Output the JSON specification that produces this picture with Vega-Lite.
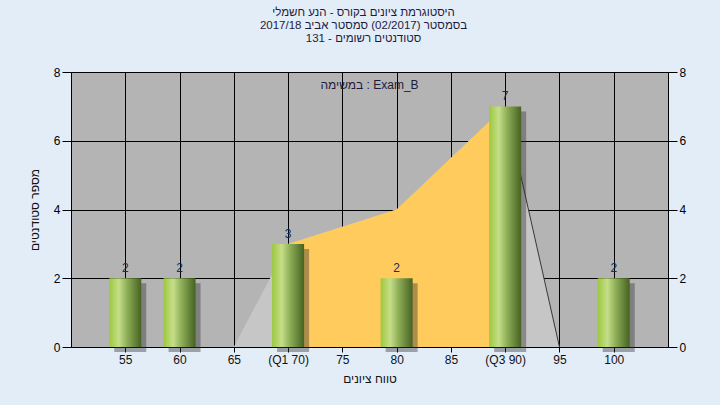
{
  "$schema": "https://vega.github.io/schema/vega-lite/v6.json",
  "width": 597,
  "height": 275,
  "autosize": {"type": "none"},
  "padding": {"left": 71, "top": 72, "right": 52, "bottom": 58},
  "background": "#e3edf8",
  "config": {
    "view": {"fill": "#b4b4b4", "stroke": "#000000", "strokeWidth": 1},
    "font": "Liberation Sans",
    "axis": {
      "gridColor": "#000000", "gridOpacity": 1, "gridWidth": 1,
      "domainColor": "#000000", "tickColor": "#000000",
      "labelColor": "#111111", "labelFontSize": 12, "labelFont": "Liberation Sans",
      "titleFontSize": 12, "titleFontWeight": "normal", "titleColor": "#111111", "titleFont": "Liberation Sans"
    }
  },
  "title": {
    "text": [
      "היסטוגרמת ציונים בקורס - הנע חשמלי",
      "בסמסטר  (02/2017)  סמסטר אביב 2017/18",
      "סטודנטים רשומים - 131"
    ],
    "fontSize": 11.5, "fontWeight": "normal", "color": "#1c1c3c",
    "lineHeight": 13, "offset": 22, "anchor": "middle", "dx": -6, "font": "Liberation Sans"
  },
  "datasets": {
    "bars": [
      {"score": 55, "n": 2}, {"score": 60, "n": 2}, {"score": 70, "n": 3},
      {"score": 80, "n": 2}, {"score": 90, "n": 7}, {"score": 100, "n": 2}
    ],
    "poly": [
      {"score": 65, "n": 0}, {"score": 70, "n": 3}, {"score": 80, "n": 4},
      {"score": 90, "n": 7}, {"score": 95, "n": 0}
    ],
    "note": [
      {"score": 77.5, "n": 7.62, "label": "במשימה : Exam_B"}
    ]
  },
  "encoding": {
    "x": {
      "field": "score", "type": "quantitative",
      "scale": {"domain": [50, 105], "nice": false, "zero": false, "padding": 0},
      "axis": {
        "values": [55, 60, 65, 70, 75, 80, 85, 90, 95, 100],
        "labelExpr": "datum.value == 70 ? '(Q1 70)' : datum.value == 90 ? '(Q3 90)' : datum.label",
        "grid": true, "tickSize": 5, "labelPadding": 2, "domain": false,
        "title": "טווח ציונים", "titlePadding": 8
      }
    },
    "y": {
      "field": "n", "type": "quantitative",
      "scale": {"domain": [0, 8], "nice": false, "padding": 0},
      "axis": null
    }
  },
  "layer": [
    {
      "data": {"name": "poly"},
      "mark": {"type": "area", "color": "#c6c6c6", "opacity": 1},
      "encoding": {
        "y": {
          "field": "n", "type": "quantitative",
          "scale": {"domain": [0, 8], "nice": false, "padding": 0},
          "axis": {"orient": "left", "values": [0, 2, 4, 6, 8], "grid": true, "tickSize": 9, "labelPadding": 2, "domain": false, "title": "מספר סטודנטים", "titlePadding": 12, "labelColor": "#000000"}
        }
      }
    },
    {
      "data": {"name": "poly"},
      "transform": [{"filter": "datum.score >= 70 && datum.score <= 90"}],
      "mark": {"type": "area", "color": "#ffcb5c", "opacity": 1}
    },
    {
      "data": {"name": "poly"},
      "transform": [{"filter": "datum.score >= 90"}],
      "mark": {"type": "line", "color": "#383838", "strokeWidth": 1}
    },
    {
      "data": {"name": "bars"},
      "mark": {"type": "bar", "width": 32, "xOffset": 5, "yOffset": 5, "color": "#303030", "opacity": 0.4}
    },
    {
      "data": {"name": "bars"},
      "mark": {
        "type": "bar", "width": 32,
        "color": {
          "gradient": "linear", "x1": 0, "y1": 0, "x2": 1, "y2": 0,
          "stops": [
            {"offset": 0, "color": "#9cc83c"},
            {"offset": 0.3, "color": "#c6de8a"},
            {"offset": 0.55, "color": "#8fb058"},
            {"offset": 1, "color": "#466222"}
          ]
        }
      },
      "encoding": {
        "y": {
          "field": "n", "type": "quantitative",
          "scale": {"domain": [0, 8], "nice": false, "padding": 0},
          "axis": {"orient": "right", "values": [0, 2, 4, 6, 8], "grid": false, "tickSize": 9, "labelPadding": 2, "domain": false, "title": null, "labelColor": "#000000"}
        }
      }
    },
    {
      "data": {"name": "bars"},
      "mark": {"type": "text", "baseline": "bottom", "dy": -3, "fontSize": 12, "color": "#1a2a5a", "font": "Liberation Sans"},
      "encoding": {"text": {"field": "n", "type": "quantitative"}}
    },
    {
      "data": {"name": "note"},
      "mark": {"type": "text", "fontSize": 12, "color": "#1c1c3c", "font": "Liberation Sans"},
      "encoding": {
        "text": {"field": "label", "type": "nominal"}
      }
    }
  ],
  "resolve": {"axis": {"y": "independent"}}
}
